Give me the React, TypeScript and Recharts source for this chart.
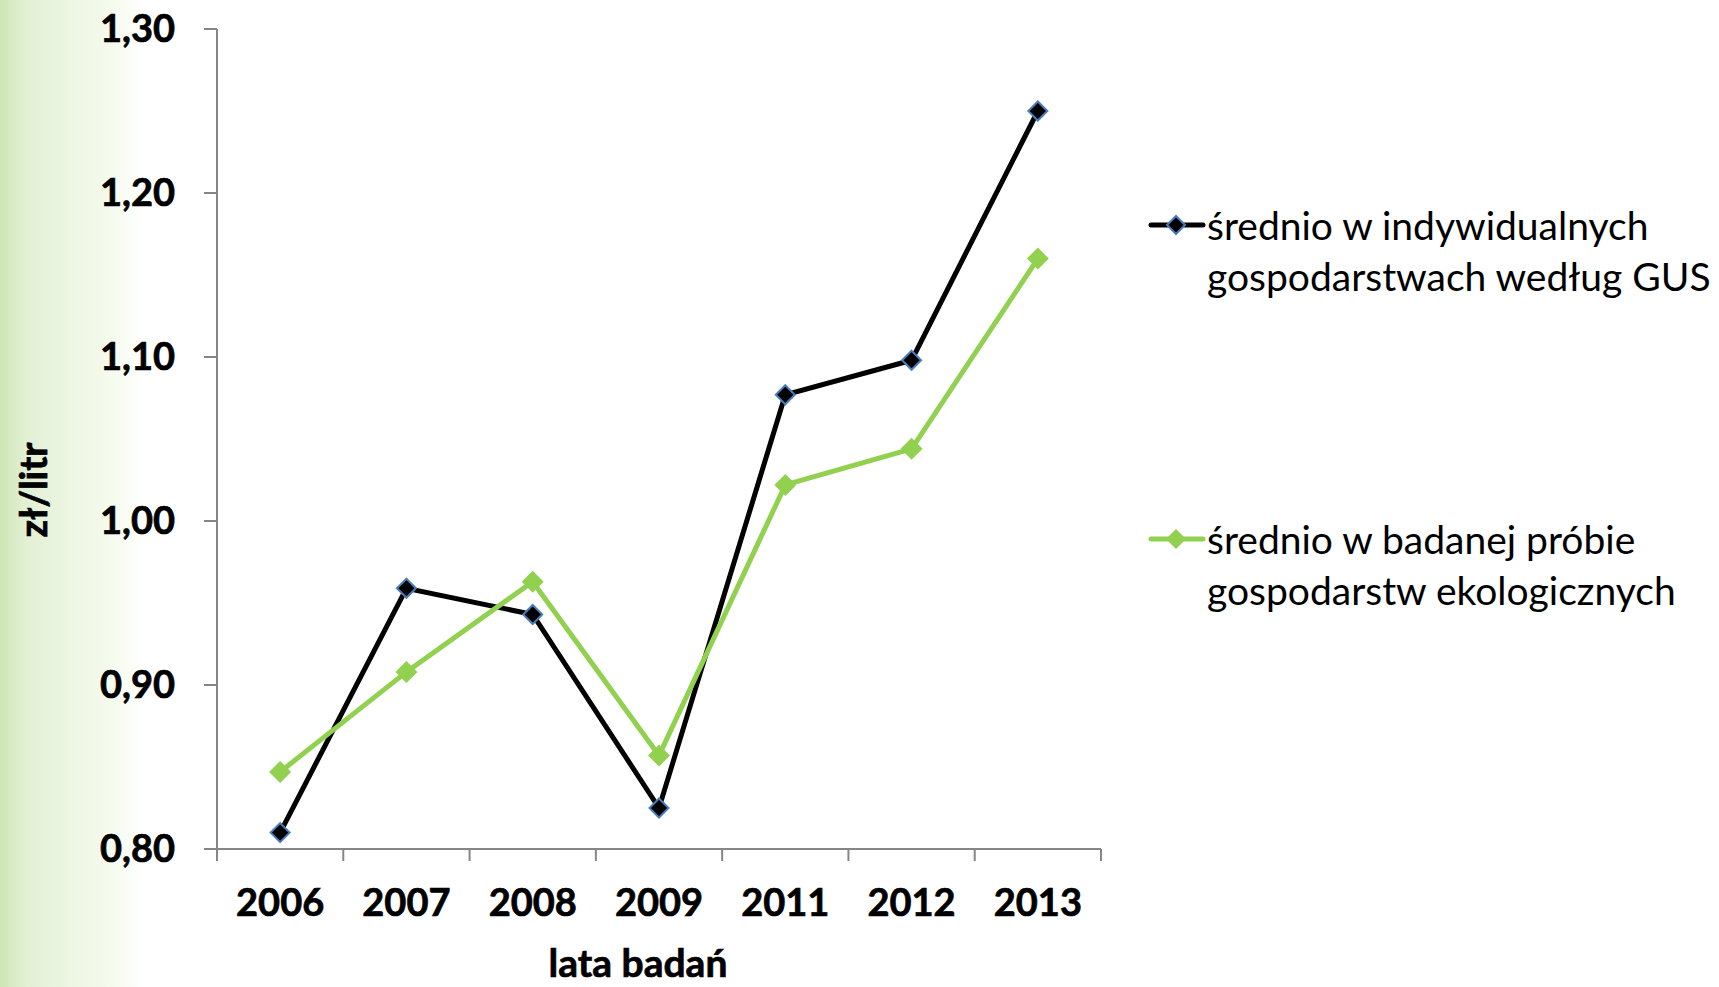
import { LineChart, Line, XAxis, YAxis, Legend, Label } from 'recharts'

const YEARS = ['2006', '2007', '2008', '2009', '2011', '2012', '2013']
const GUS_PRICES = [0.81, 0.959, 0.943, 0.825, 1.077, 1.098, 1.25]
const ECO_PRICES = [0.847, 0.908, 0.963, 0.857, 1.022, 1.044, 1.16]
const Y_TICKS = [0.8, 0.9, 1.0, 1.1, 1.2, 1.3]

const GUS_NAME = 'średnio w indywidualnych gospodarstwach według GUS'
const ECO_NAME = 'średnio w badanej próbie gospodarstw ekologicznych'
const LEGEND_ORDER = ['gus', 'eco']

const data = YEARS.map((year, i) => ({ year, gus: GUS_PRICES[i], eco: ECO_PRICES[i] }))

const AXIS_GRAY = '#868686'
const GREEN = '#92d050'
const MARKER_BLUE = '#4a7ebb'
const FONT = 'Lato, "Open Sans", sans-serif'
const BOLD_SIZE = 38

const fmt = (v: number) => v.toFixed(2).replace('.', ',')

function diamond(cx: number, cy: number, r: number) {
  return `${cx},${cy - r} ${cx + r},${cy} ${cx},${cy + r} ${cx - r},${cy}`
}

function BlackDot(props: any) {
  const { cx, cy, index } = props
  if (cx == null || cy == null) return null
  return <polygon key={`b${index}`} points={diamond(cx, cy, 9.5)} fill="#000" stroke={MARKER_BLUE} strokeWidth={2} />
}

function GreenDot(props: any) {
  const { cx, cy, index } = props
  if (cx == null || cy == null) return null
  return <polygon key={`g${index}`} points={diamond(cx, cy, 11)} fill={GREEN} />
}

// bold text with a thin outline so Lato Bold reads as heavy as Calibri Bold
const boldText = { fill: '#000', stroke: '#000', strokeWidth: 0.7, fontSize: BOLD_SIZE, fontWeight: 700, fontFamily: FONT }

// year label in the band centre, tick mark at the band edge (Excel style)
function YearTick(props: any) {
  const { x, y, payload, index, visibleTicksCount, width } = props
  const half = payload?.offset || width / visibleTicksCount / 2
  const last = index === visibleTicksCount - 1
  return (
    <g>
      <line x1={x - half} y1={y} x2={x - half} y2={y + 12} stroke={AXIS_GRAY} strokeWidth={2} />
      {last && <line x1={x + half} y1={y} x2={x + half} y2={y + 12} stroke={AXIS_GRAY} strokeWidth={2} />}
      <text x={x} y={y + 67} textAnchor="middle" {...boldText}>
        {payload.value}
      </text>
    </g>
  )
}

function XTitle(props: any) {
  const vb = props.viewBox
  return (
    <text x={vb.x + vb.width / 2 - 21} y={vb.y + vb.height - 10} textAnchor="middle" {...boldText} fontSize={39}>
      lata badań
    </text>
  )
}

function YTitle(props: any) {
  const vb = props.viewBox
  const cx = vb.x + 47
  const cy = vb.y + vb.height / 2 + 51
  return (
    <text x={cx} y={cy} transform={`rotate(-90 ${cx} ${cy})`} textAnchor="middle" {...boldText}>
      zł/litr
    </text>
  )
}

function LegendIcon({ type }: { type: string }) {
  const black = type === 'gus'
  return (
    <svg width={60} height={51} style={{ position: 'absolute', left: 0, top: 0 }}>
      <line x1={3} y1={25} x2={55} y2={25} stroke={black ? '#000' : GREEN} strokeWidth={5} strokeLinecap="round" />
      {black ? (
        <polygon points={diamond(28, 25, 9)} fill="#000" stroke={MARKER_BLUE} strokeWidth={2} />
      ) : (
        <polygon points={diamond(28, 25, 10)} fill={GREEN} />
      )}
    </svg>
  )
}

function SideLegend(props: any) {
  const items = [...(props.payload || [])].sort(
    (a: any, b: any) => LEGEND_ORDER.indexOf(a.dataKey) - LEGEND_ORDER.indexOf(b.dataKey),
  )
  return (
    <div style={{ fontFamily: FONT, fontSize: 39, lineHeight: '51px', color: '#000' }}>
      {items.map((it: any, i: number) => (
        <div key={it.dataKey} style={{ position: 'relative', height: 102, marginBottom: i === 0 ? 212 : 0 }}>
          <LegendIcon type={it.dataKey} />
          <div style={{ position: 'absolute', left: 59, top: 0, width: 510 }}>{it.value}</div>
        </div>
      ))}
    </div>
  )
}

export default function App() {
  return (
    <div
      style={{
        position: 'fixed',
        left: 0,
        top: 0,
        width: 1719,
        height: 987,
        background: 'linear-gradient(to right, #cde6b2 0px, #e2f0d4 25px, #ecf6e2 70px, #f6fbef 115px, #ffffff 145px)',
      }}
    >
      <LineChart width={1719} height={987} data={data} margin={{ top: 29, right: 618, bottom: 0, left: 0 }}>
        <XAxis
          dataKey="year"
          scale="band"
          height={138}
          axisLine={{ stroke: AXIS_GRAY, strokeWidth: 2 }}
          tickLine={false}
          tickSize={0}
          tickMargin={0}
          tick={<YearTick />}
          interval={0}
        >
          <Label content={<XTitle />} />
        </XAxis>
        <YAxis
          width={217}
          domain={[0.8, 1.3]}
          ticks={Y_TICKS}
          allowDataOverflow
          tickFormatter={fmt}
          axisLine={{ stroke: AXIS_GRAY, strokeWidth: 2 }}
          tickLine={{ stroke: AXIS_GRAY, strokeWidth: 2 }}
          tickSize={13}
          tickMargin={29}
          tick={boldText}
        >
          <Label content={<YTitle />} />
        </YAxis>
        <Legend
          layout="vertical"
          align="center"
          verticalAlign="middle"
          wrapperStyle={{ left: 1148, top: 200, width: 571 }}
          content={<SideLegend />}
        />
        <Line
          dataKey="gus"
          name={GUS_NAME}
          type="linear"
          stroke="#000"
          strokeWidth={5}
          dot={<BlackDot />}
          activeDot={false}
          isAnimationActive={false}
        />
        <Line
          dataKey="eco"
          name={ECO_NAME}
          type="linear"
          stroke={GREEN}
          strokeWidth={5}
          dot={<GreenDot />}
          activeDot={false}
          isAnimationActive={false}
        />
      </LineChart>
    </div>
  )
}
